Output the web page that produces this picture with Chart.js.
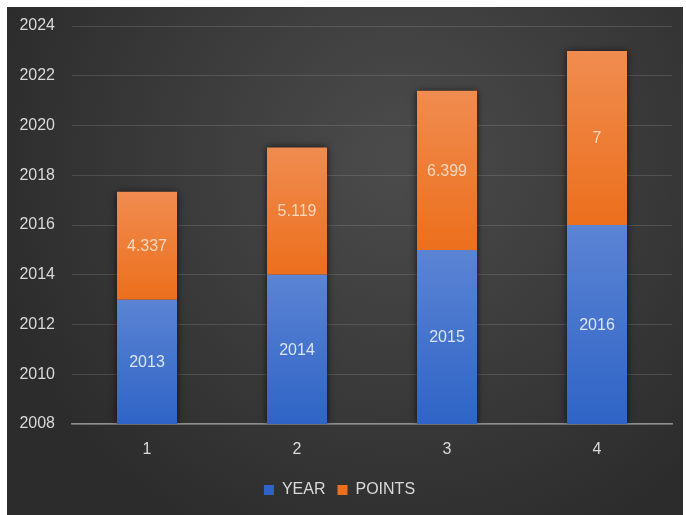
<!DOCTYPE html>
<html>
<head>
<meta charset="utf-8">
<script src="https://cdn.jsdelivr.net/npm/chart.js@4"></script>
<style>
  html, body { margin: 0; padding: 0; background: #ffffff; }
  #wrap { position: absolute; left: 7px; top: 7px; width: 676px; height: 508px; }
</style>
</head>
<body>
<div id="wrap"><canvas id="myChart" width="676" height="508"></canvas></div>
<script>
  const categories = ['1', '2', '3', '4'];
  const years = [2013, 2014, 2015, 2016];
  const points = [4.337, 5.119, 6.399, 7];
  const pointLabels = ['4.337', '5.119', '6.399', '7'];

  const textColor = '#d9d9d9';
  const font = { family: "'Liberation Sans', Arial, sans-serif", size: 16 };

  // vertical gradient for one bar segment, light at the top
  function segmentFill(ctx, topValue, bottomValue, light, dark) {
    const chart = ctx.chart;
    const area = chart.chartArea;
    if (!area || !chart.scales.y) return dark;
    const y = chart.scales.y;
    const top = y.getPixelForValue(topValue);
    const bottom = Math.min(y.getPixelForValue(bottomValue), area.bottom);
    const g = chart.ctx.createLinearGradient(0, top, 0, bottom);
    g.addColorStop(0, light);
    g.addColorStop(1, dark);
    return g;
  }

  const panel = {
    id: 'panel',
    beforeDraw(chart) {
      const { ctx, width, height } = chart;
      ctx.save();
      const g = ctx.createRadialGradient(width * 0.58, height * 0.3, 20, width * 0.58, height * 0.3, width * 0.62);
      g.addColorStop(0, '#4a4a4a');
      g.addColorStop(1, '#2c2c2c');
      ctx.fillStyle = g;
      ctx.fillRect(0, 0, width, height);
      ctx.restore();
    }
  };

  // soft dark halo behind each full stack
  const barShadow = {
    id: 'barShadow',
    beforeDatasetsDraw(chart) {
      const { ctx, chartArea } = chart;
      const top = chart.getDatasetMeta(1).data;
      ctx.save();
      ctx.beginPath();
      ctx.rect(chartArea.left, chartArea.top - 10, chartArea.right - chartArea.left, chartArea.bottom - chartArea.top + 10);
      ctx.clip();
      ctx.shadowColor = 'rgba(0,0,0,0.7)';
      ctx.shadowBlur = 7;
      ctx.fillStyle = '#262626';
      top.forEach(el => {
        const w = el.width;
        ctx.fillRect(el.x - w / 2, el.y, w, chartArea.bottom - el.y);
      });
      ctx.restore();
    }
  };

  const valueLabels = {
    id: 'valueLabels',
    afterDatasetsDraw(chart) {
      const { ctx, chartArea } = chart;
      ctx.save();
      ctx.font = `${font.size}px ${font.family}`;
      ctx.textAlign = 'center';
      ctx.textBaseline = 'middle';
      chart.data.datasets.forEach((ds, di) => {
        const meta = chart.getDatasetMeta(di);
        meta.data.forEach((el, i) => {
          const top = el.y;
          const bottom = Math.min(el.base, chartArea.bottom);
          ctx.fillStyle = di === 0 ? 'rgba(235,240,250,0.9)' : 'rgba(250,225,205,0.9)';
          ctx.fillText(ds.valueText[i], el.x, (top + bottom) / 2 + 1);
        });
      });
      ctx.restore();
    }
  };

  new Chart(document.getElementById('myChart'), {
    type: 'bar',
    data: {
      labels: categories,
      datasets: [{
        label: 'YEAR',
        data: years,
        valueText: years.map(String),
        backgroundColor: ctx => segmentFill(ctx, years[ctx.dataIndex], 0, '#5b84d4', '#2f64c6'),
        borderWidth: 0
      }, {
        label: 'POINTS',
        data: points,
        valueText: pointLabels,
        backgroundColor: ctx => segmentFill(ctx, years[ctx.dataIndex] + points[ctx.dataIndex], years[ctx.dataIndex], '#f08c50', '#ec6f1c'),
        borderWidth: 0
      }]
    },
    options: {
      responsive: false,
      animation: false,
      datasets: { bar: { categoryPercentage: 1, barPercentage: 0.4 } },
      layout: { padding: { left: 0, right: 11, top: 19, bottom: 7 } },
      scales: {
        x: {
          stacked: true,
          grid: { display: false, drawTicks: false },
          border: { display: true, color: '#8f8f8f', width: 1.5 },
          ticks: { color: textColor, font: font, padding: 16 },
          afterFit: s => { s.height = 46; }
        },
        y: {
          stacked: true,
          min: 2008,
          max: 2024,
          grid: { color: 'rgba(255,255,255,0.13)', drawTicks: false },
          border: { display: false },
          ticks: { stepSize: 2, color: textColor, font: font, padding: 17, callback: v => String(v) },
          afterFit: s => { s.width = 65; s.paddingTop = 10; s.paddingBottom = 0; }
        }
      },
      plugins: {
        legend: {
          position: 'bottom',
          labels: { color: textColor, font: font, boxWidth: 10, boxHeight: 10, padding: 12 }
        },
        tooltip: { enabled: false }
      }
    },
    plugins: [panel, barShadow, valueLabels]
  });
</script>
</body>
</html>
